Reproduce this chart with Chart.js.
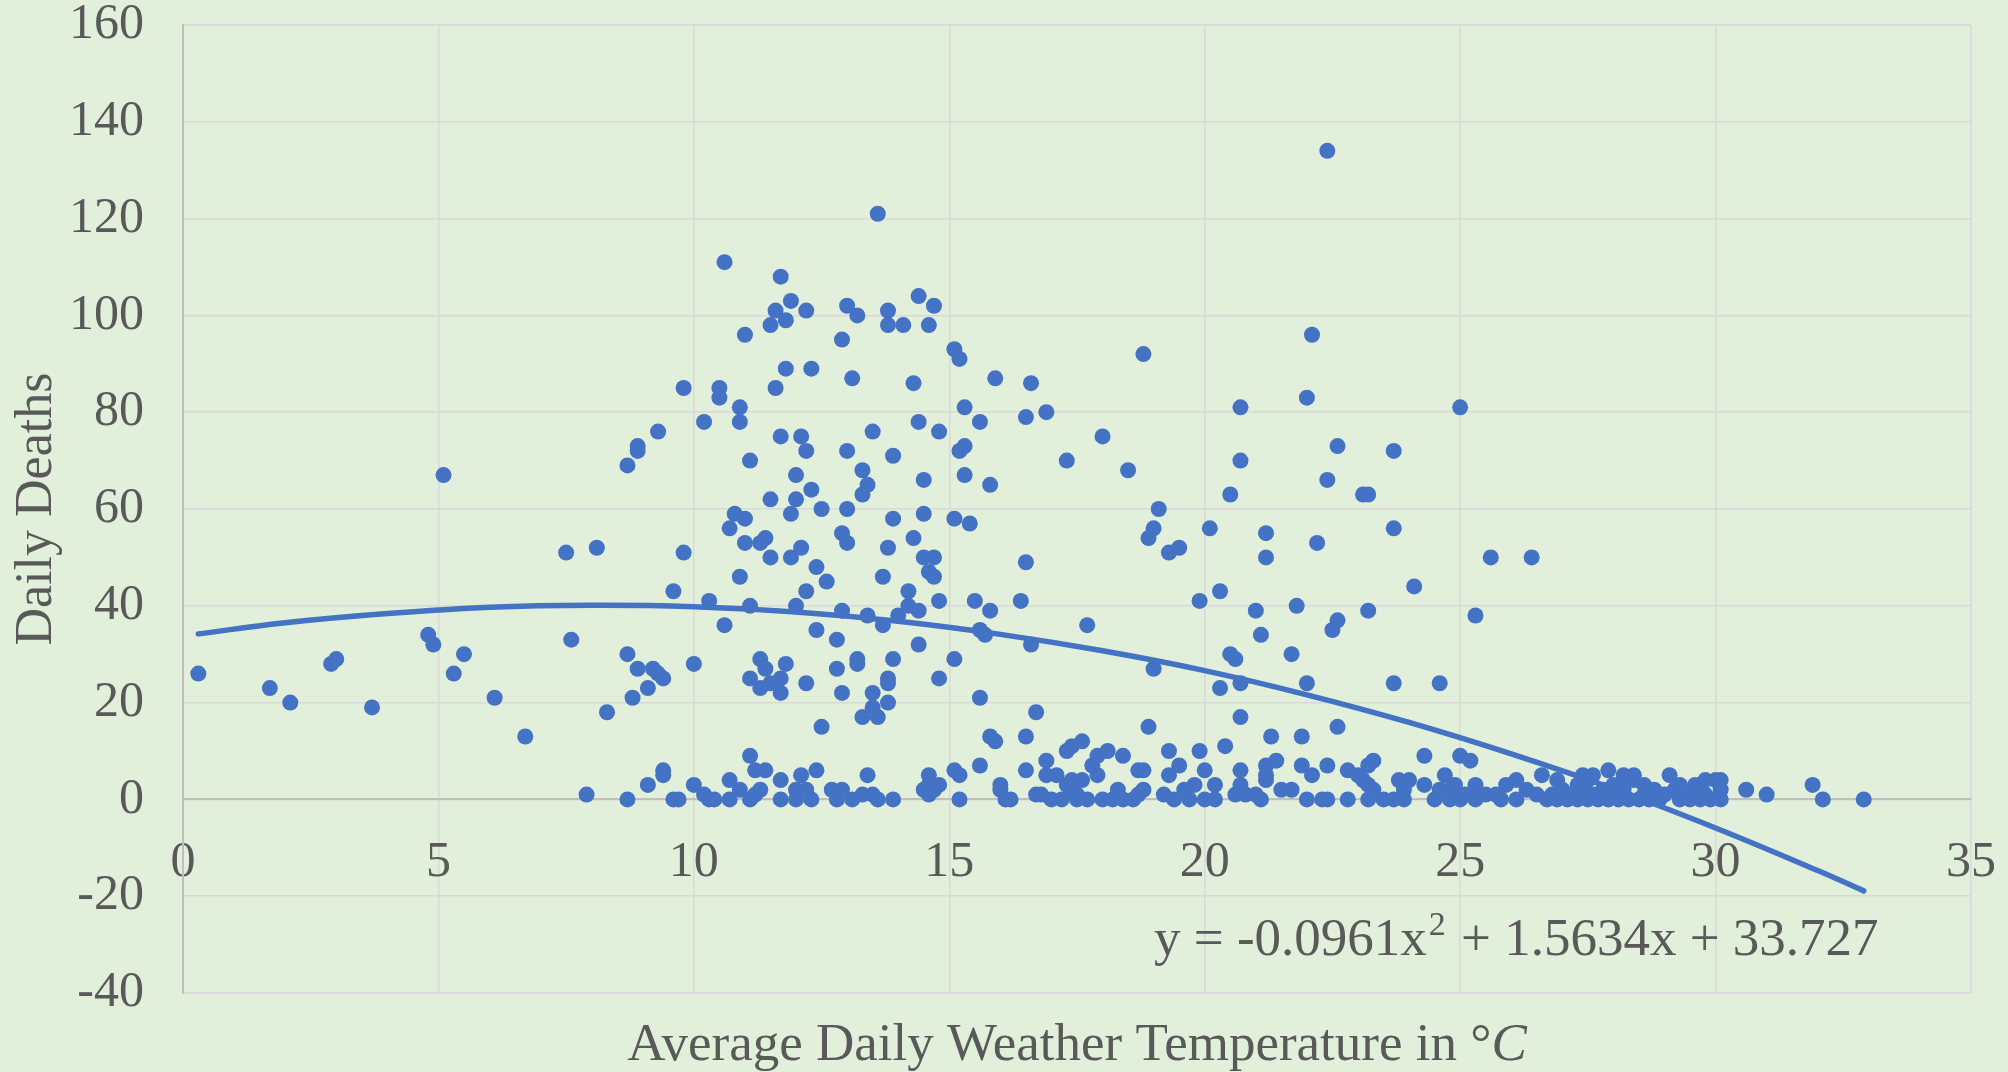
<!DOCTYPE html>
<html>
<head>
<meta charset="utf-8">
<title>Daily Deaths vs Temperature</title>
<script src="https://cdn.jsdelivr.net/npm/chart.js@4.4.1/dist/chart.umd.min.js"></script>
<style>
  html, body { margin: 0; padding: 0; background: #e2efda; }
  #wrap { width: 2008px; height: 1072px; }
</style>
</head>
<body>
<div id="wrap"><canvas id="chart" width="2008" height="1072"></canvas></div>
<script>
// [temperature °C, deaths]
const readings = [
  [0.3,26],[1.7,23],[2.1,20],[2.9,28],[3.0,29],[3.7,19],[4.8,34],[4.9,32],[5.1,67],[5.3,26],[5.5,30],[6.1,21],[6.7,13],
  [7.5,51],[7.6,33],[7.9,1],[8.1,52],[8.3,18],[8.7,69],[8.7,30],[8.7,0],[8.8,21],[8.9,27],[8.9,73],[8.9,72],
  [9.1,23],[9.1,3],[9.2,27],[9.3,26],[9.4,25],[9.3,76],[9.4,6],[9.4,5],[9.6,43],[9.6,0],[9.7,0],[9.8,85],[9.8,51],[10.0,28],[10.0,3],
  [10.2,78],[10.2,1],[10.3,41],[10.3,0],[10.4,0],[10.5,85],[10.5,83],[10.6,111],[10.6,36],[10.7,56],[10.7,4],[10.7,0],[10.8,59],
  [10.9,81],[10.9,78],[10.9,46],[10.9,2],[11.0,96],[11.0,58],[11.0,53],[11.1,70],[11.1,40],[11.1,25],[11.1,9],[11.1,0],[11.2,6],[11.2,1],
  [11.3,53],[11.4,54],[11.3,29],[11.3,23],[11.3,2],[11.4,27],[11.4,6],
  [11.5,98],[11.5,62],[11.5,50],[11.5,24],[11.6,101],[11.6,85],[11.7,108],[11.7,75],[11.7,25],[11.7,22],[11.7,4],[11.7,0],
  [11.8,99],[11.8,89],[11.8,28],[11.9,103],[11.9,59],[11.9,50],[12.0,67],[12.0,62],[12.0,40],[12.0,2],[12.0,0],[12.1,75],[12.1,52],[12.1,5],
  [12.2,101],[12.2,72],[12.2,43],[12.2,24],[12.2,2],[12.3,89],[12.3,64],[12.3,0],[12.4,48],[12.4,35],[12.4,6],[12.5,60],[12.5,15],
  [12.6,45],[12.7,2],[12.8,33],[12.8,27],[12.8,0],[12.9,95],[12.9,55],[12.9,39],[12.9,22],[12.9,2],[13.0,102],[13.0,72],[13.0,60],[13.0,53],
  [13.1,87],[13.1,0],[13.2,100],[13.2,29],[13.2,28],[13.3,68],[13.3,63],[13.3,17],[13.3,1],[13.4,65],[13.4,38],[13.4,5],[13.5,76],[13.5,22],[13.5,19],[13.5,1],
  [13.6,121],[13.6,17],[13.6,0],[13.7,46],[13.7,36],[13.8,101],[13.8,98],[13.8,52],[13.8,25],[13.8,24],[13.8,20],[13.9,71],[13.9,58],[13.9,29],[13.9,0],
  [14.0,38],[14.1,98],[14.2,43],[14.2,40],[14.3,86],[14.3,54],[14.4,104],[14.4,78],[14.4,39],[14.4,32],[14.5,66],[14.5,59],[14.5,50],[14.5,2],
  [14.6,98],[14.6,47],[14.6,5],[14.6,3],[14.6,1],[14.7,102],[14.7,50],[14.7,46],[14.7,2],[14.8,76],[14.8,41],[14.8,25],[14.8,3],
  [15.1,93],[15.1,58],[15.1,29],[15.1,6],[15.2,91],[15.2,72],[15.2,5],[15.2,0],[15.3,81],[15.3,73],[15.3,67],[15.4,57],[15.5,41],
  [15.6,78],[15.6,35],[15.6,21],[15.6,7],[15.7,34],[15.8,65],[15.8,39],[15.8,13],[15.9,87],[15.9,12],[16.0,3],[16.0,2],[16.1,0],[16.2,0],
  [16.4,41],[16.5,79],[16.5,49],[16.5,13],[16.5,6],[16.6,86],[16.6,32],[16.7,18],[16.7,1],[16.8,1],[16.9,80],[16.9,8],[16.9,5],[17.0,0],[17.1,5],[17.2,0],
  [17.3,70],[17.3,10],[17.3,3],[17.4,11],[17.4,4],[17.4,2],[17.5,1],[17.5,0],[17.6,12],[17.6,4],[17.7,36],[17.7,0],[17.8,7],[17.9,9],[17.9,5],
  [18.0,75],[18.0,0],[18.1,10],[18.2,0],[18.3,2],[18.4,9],[18.4,0],[18.5,68],[18.6,0],
  [18.7,6],[18.7,1],[18.8,92],[18.8,6],[18.8,2],[18.9,54],[18.9,15],[19.0,56],[19.0,27],[19.1,60],[19.2,1],[19.3,51],[19.3,10],[19.3,5],
  [19.4,0],[19.5,52],[19.5,7],[19.6,2],[19.7,0],[19.8,3],[19.9,41],[19.9,10],
  [20.0,6],[20.0,0],[20.1,56],[20.2,3],[20.2,0],[20.3,43],[20.3,23],[20.4,11],[20.5,63],[20.5,30],[20.6,29],[20.6,1],[20.7,81],[20.7,70],
  [20.7,24],[20.7,17],[20.7,6],[20.7,3],[20.8,1],[21.0,39],[21.0,1],[21.1,34],[21.1,0],[21.2,55],[21.2,50],[21.2,7],[21.2,5],[21.2,4],
  [21.3,13],[21.4,8],[21.5,2],
  [21.7,30],[21.7,2],[21.8,40],[21.9,13],[21.9,7],[22.0,83],[22.0,24],[22.0,0],[22.1,96],[22.1,5],[22.2,53],[22.3,0],[22.4,134],[22.4,66],
  [22.4,7],[22.4,0],[22.5,35],[22.6,73],[22.6,37],[22.6,15],[22.8,6],[22.8,0],[23.0,5],[23.1,63],[23.1,4],[23.2,63],[23.2,39],[23.2,7],
  [23.2,3],[23.2,0],[23.3,8],[23.3,2],
  [23.5,0],[23.7,72],[23.7,56],[23.7,24],[23.7,0],[23.8,4],[23.9,2],[23.9,0],[24.0,4],[24.1,44],[24.3,9],[24.3,3],[24.5,0],[24.6,24],
  [24.6,2],[24.7,5],[24.8,2],[24.8,0],[24.9,3],[25.0,81],[25.0,9],[25.0,0],[25.2,8],[25.1,1],[25.3,38],[25.3,3],[25.3,0],[25.5,1],
  [25.6,50],[25.7,1],[25.8,0],[25.9,3],[26.1,4],[26.1,0],[26.3,2],[26.4,50],[26.5,1],[26.6,5],[26.7,0],[26.8,1],
  [26.9,4],[26.9,0],[27.0,2],[27.1,0],[27.2,1],[27.3,3],[27.3,0],[27.4,5],[27.4,2],[27.5,0],[27.5,4],[27.6,5],[27.6,1],[27.7,0],
  [27.8,2],[27.9,6],[27.9,0],[28.0,3],[28.0,1],[28.1,0],[28.2,5],[28.2,2],[28.3,0],[28.4,5],[28.4,4],[28.5,0],[28.6,3],[28.6,1],
  [28.7,0],[28.8,2],[28.9,0],[29.1,5],[29.0,1],[29.2,2],[29.3,3],[29.3,0],[29.4,1],[29.5,0],[29.6,3],[29.6,2],[29.7,0],[29.8,4],
  [29.8,1],[29.9,0],[30.0,4],[30.1,4],[30.1,2],[30.1,0],[30.6,2],[31.0,1],[31.9,3],[32.1,0],[32.9,0]
];

// polynomial trendline
const trendTemp   = [0.3, 2, 4, 6, 8, 10, 12, 14, 16, 18, 20, 22, 24, 26, 28, 30, 32, 32.9];
const trendDeaths = [34.2, 36.5, 38.4, 39.7, 40.1, 39.8, 38.7, 36.8, 34.1, 30.7, 26.6, 21.6, 15.9, 9.4, 2.2, -5.9, -14.7, -18.9];

const xRange = [0, 35, 5];
const yRange = [-40, 160, 20];

// equation split so the exponent can be raised
const equationParts = ['y = -0.0961x', '2', ' + 1.5634x + 33.727'];
const xTitleText = 'Average Daily Weather Temperature in °';
const xTitleUnit = 'C';
const yTitleText = 'Daily Deaths';

const blue = '#4472c4';
const textGrey = '#595959';
const serif = '"Liberation Serif", "Times New Roman", serif';

const textPlugin = {
  id: 'chartText',
  afterDraw(chart) {
    const { ctx, chartArea, scales } = chart;
    ctx.save();
    ctx.fillStyle = textGrey;
    ctx.textBaseline = 'alphabetic';
    ctx.textAlign = 'left';

    // trendline equation
    const big = '53px ' + serif;
    const small = '34px ' + serif;
    ctx.font = big;
    const w0 = ctx.measureText(equationParts[0]).width;
    const w2 = ctx.measureText(equationParts[2]).width;
    ctx.font = small;
    const w1 = ctx.measureText(equationParts[1]).width + 4;
    const ex = scales.x.getPixelForValue(26.1) - (w0 + w1 + w2) / 2;
    const ey = scales.y.getPixelForValue(-32.2);
    ctx.font = big;
    ctx.fillText(equationParts[0], ex, ey);
    ctx.font = small;
    ctx.fillText(equationParts[1], ex + w0 + 2, ey - 20);
    ctx.font = big;
    ctx.fillText(equationParts[2], ex + w0 + w1, ey);

    // x axis title with italic unit
    const plain = '53px ' + serif;
    const ital = 'italic 53px ' + serif;
    ctx.font = plain;
    const wa = ctx.measureText(xTitleText).width;
    ctx.font = ital;
    const wb = ctx.measureText(xTitleUnit).width;
    const left = (chartArea.left + chartArea.right) / 2 - (wa + wb) / 2;
    const base = chartArea.bottom + 67;
    ctx.font = plain;
    ctx.fillText(xTitleText, left, base);
    ctx.font = ital;
    ctx.fillText(xTitleUnit, left + wa, base);
    ctx.restore();
  }
};

const ctx = document.getElementById('chart').getContext('2d');
const chart = new Chart(ctx, {
  type: 'scatter',
  data: {
    datasets: [
      {
        type: 'line',
        label: 'Trend',
        data: trendTemp.map((t, i) => ({ x: t, y: trendDeaths[i] })),
        borderColor: blue,
        borderWidth: 5.5,
        borderCapStyle: 'round',
        pointRadius: 0,
        tension: 0.4,
        fill: false,
        order: 0
      },
      {
        label: 'Daily Deaths',
        data: readings.map(r => ({ x: r[0], y: r[1] })),
        backgroundColor: blue,
        borderColor: blue,
        borderWidth: 0,
        pointRadius: 8,
        order: 1
      }
    ]
  },
  options: {
    responsive: false,
    animation: false,
    layout: { padding: { left: 0, top: 25, right: 37, bottom: 79 } },
    plugins: {
      legend: { display: false },
      tooltip: { enabled: false }
    },
    scales: {
      x: {
        type: 'linear',
        position: { y: 0 },
        min: xRange[0],
        max: xRange[1],
        ticks: { stepSize: xRange[2], padding: 33, color: textGrey, font: { family: serif, size: 50 } },
        grid: { color: '#d9d9d9', lineWidth: 1.5, drawTicks: false },
        border: { color: '#bfbfbf', width: 2 },
        afterFit(scale) { scale.paddingLeft = 0; scale.paddingRight = 0; }
      },
      y: {
        type: 'linear',
        min: yRange[0],
        max: yRange[1],
        ticks: { stepSize: yRange[2], padding: 39, color: textGrey, font: { family: serif, size: 50 } },
        grid: { color: '#d9d9d9', lineWidth: 1.5, drawTicks: false },
        border: { color: '#bfbfbf', width: 2 },
        title: {
          display: true,
          text: yTitleText,
          color: textGrey,
          font: { family: serif, size: 52, lineHeight: 1 },
          padding: { top: 11, bottom: 0 }
        },
        afterFit(scale) { scale.width = 183; scale.paddingTop = 0; scale.paddingBottom = 0; }
      }
    }
  },
  plugins: [textPlugin]
});
</script>
</body>
</html>
